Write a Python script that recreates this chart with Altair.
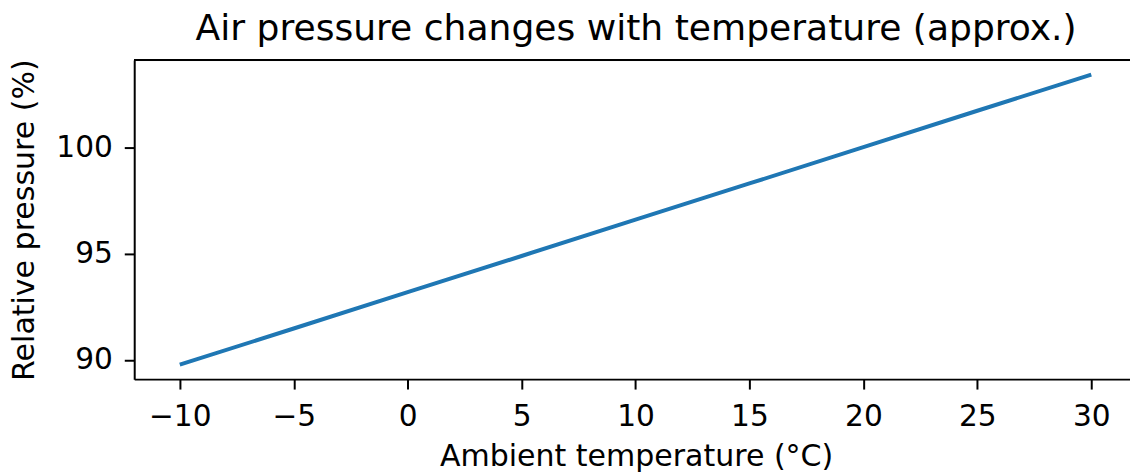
import altair as alt
import pandas as pd

temps = [-10, -5, 0, 5, 10, 15, 20, 25, 30]
pressure = [89.77, 91.47, 93.18, 94.88, 96.59, 98.29, 100.0, 101.71, 103.41]
x_ticks = [-10, -5, 0, 5, 10, 15, 20, 25, 30]
y_ticks = [90, 95, 100]

df = pd.DataFrame({"t": temps, "p": pressure})

FONT = "DejaVu Sans"
W, H = 1002, 321
TICK_FS = 29.8
LAB_FS = 30.2

common = dict(grid=False, labelFontSize=TICK_FS, titleFontSize=LAB_FS, tickSize=10,
              tickWidth=2, domainWidth=2, domainColor="black", tickColor="black",
              labelColor="black", titleColor="black", labelFont=FONT, titleFont=FONT,
              titleFontWeight="normal", labelFlush=False)

line = alt.Chart(df).mark_line(color="#1f77b4", strokeWidth=4, clip=True).encode(
    x=alt.X("t:Q", scale=alt.Scale(domain=[-12, 31.7], nice=False, zero=False),
            axis=alt.Axis(values=x_ticks, title="Ambient temperature (°C)",
                          labelPadding=13, titlePadding=10, titleX=W / 2 + 4, **common)),
    y=alt.Y("p:Q", scale=alt.Scale(domain=[89.09, 104.09], nice=False, zero=False),
            axis=alt.Axis(values=y_ticks, title="Relative pressure (%)",
                          labelPadding=12, titlePadding=16, **common)),
)

top = alt.Chart(df).mark_rule(color="black", strokeWidth=2).encode(
    x=alt.value(0), x2=alt.value(W + 10), y=alt.value(0)
)

chart = alt.layer(line, top).properties(
    width=W, height=H,
    title=alt.TitleParams("Air pressure changes with temperature (approx.)",
                          fontSize=36.3, font=FONT, fontWeight="normal", color="black",
                          baseline="alphabetic", offset=17, dy=34, dx=4, anchor="middle"),
    autosize=alt.AutoSizeParams(type="none"),
    padding={"left": 127, "top": 51, "right": 0, "bottom": 92},
).configure_view(stroke=None).configure(background="white")

chart.save("out.html", embed_options={"renderer": "svg", "actions": False})
